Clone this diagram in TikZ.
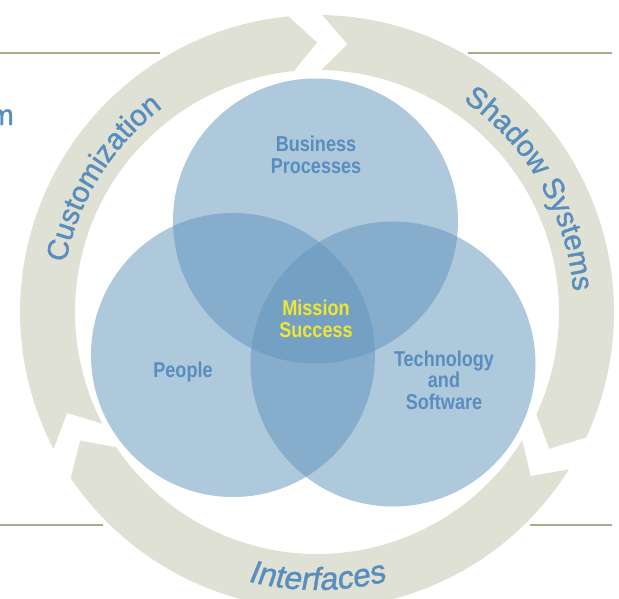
\documentclass[tikz,border=0pt]{standalone}
\usepackage{fontspec}
\setmainfont{Liberation Sans}
\newfontfamily\lblfont{Liberation Sans}[FakeStretch=0.84]
\newfontfamily\ringfont{Liberation Sans}[FakeBold=1.2]
\newfontfamily\slantfont{Liberation Sans}[FakeSlant=0.15,FakeBold=1.2]
\usetikzlibrary{decorations.text}
\definecolor{ringfill}{RGB}{224,225,213}
\definecolor{rulecol}{RGB}{164,174,138}
\definecolor{vblue}{RGB}{99,149,188}
\definecolor{tblue}{RGB}{88,141,189}
\definecolor{myellow}{RGB}{240,230,50}
\begin{document}
\begin{tikzpicture}[x=1pt,y=1pt,
  seg/.style={fill=ringfill},
  venn/.style={circle, inner sep=0pt, fill=vblue, fill opacity=0.52, text opacity=1},
  lbl/.style={font=\lblfont\bfseries\fontsize{21.5}{21.5}\selectfont, text=tblue, align=center, inner sep=0pt},
  hrule/.style={draw=rulecol, line width=2.2pt},
  ringtext/.style={decorate, decoration={text along path, text align=center, text color=tblue, text={#1}}}
]
\useasboundingbox (0,0) rectangle (619,599);
\coordinate (c) at (317,287);
% horizontal rules
\coordinate (tl0) at (0,546); \coordinate (tl1) at (160,546);
\coordinate (tr0) at (468,546); \coordinate (tr1) at (612,546);
\coordinate (bl0) at (0,74); \coordinate (bl1) at (103,74);
\coordinate (br0) at (530,74); \coordinate (br1) at (612,74);
\draw[hrule] (tl0) -- (tl1);
\draw[hrule] (tr0) -- (tr1);
\draw[hrule] (bl0) -- (bl1);
\draw[hrule] (br0) -- (br1);
% ring segments
\begin{scope}[shift={(c)}]
\fill[seg] (207.5:297) arc[start angle=207.5,end angle=95.5,radius=297] -- (90:269.5) -- (95.5:242) arc[start angle=95.5,end angle=207.5,radius=242] -- (202:269.5) -- cycle;
\fill[seg] (89:297) arc[start angle=89,end angle=-25,radius=297] -- (-30.5:269.5) -- (-25:242) arc[start angle=-25,end angle=89,radius=242] -- (83.5:269.5) -- cycle;
\fill[seg] (-32:297) arc[start angle=-32,end angle=-146,radius=297] -- (-151.5:269.5) -- (-146:242) arc[start angle=-146,end angle=-32,radius=242] -- (-37.5:269.5) -- cycle;
\path[ringtext={|\ringfont\fontsize{29.5}{30}\selectfont|Customization}] (180:256) arc[start angle=180,end angle=116,radius=256];
\path[ringtext={|\ringfont\fontsize{29.5}{30}\selectfont|Shadow Systems}] (65:257) arc[start angle=65,end angle=-5,radius=257];
\path[ringtext={|\slantfont\fontsize{32}{32}\selectfont|Interfaces}] (-121:278) arc[start angle=-121,end angle=-59,radius=278];
\end{scope}
% venn circles
\node[venn, minimum size=285] (bp) at (315.5,378) {};
\node[venn, minimum size=284] (pp) at (233,244) {};
\node[venn, minimum size=285] (ts) at (393,235) {};
% labels
\node[lbl] (lbp) at (316,444) {Business\\Processes};
\node[lbl, text=myellow] (lms) at (316,280) {Mission\\Success};
\node[lbl] (lpp) at (183,227) {People};
\node[lbl] (lts) at (444,219) {Technology\\and\\Software};
\node[font=\ringfont\fontsize{29}{30}\selectfont, text=tblue, anchor=base east, inner sep=0pt] (mm) at (14,474) {m};
\end{tikzpicture}
\end{document}
